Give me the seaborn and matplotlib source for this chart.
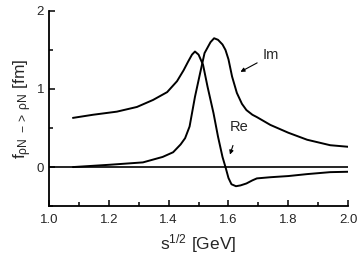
import pandas as pd
import seaborn as sns
import matplotlib.pyplot as plt
from matplotlib.ticker import MultipleLocator

# values
re_x = [1.08, 1.147, 1.227, 1.294, 1.348, 1.395, 1.428, 1.45, 1.465, 1.478, 1.488, 1.50, 1.515, 1.53, 1.55,
        1.565, 1.58, 1.59, 1.60, 1.61, 1.625, 1.64, 1.66, 1.68, 1.695, 1.74, 1.80, 1.863, 1.94, 2.0]
re_y = [0.63, 0.67, 0.71, 0.77, 0.86, 0.96, 1.10, 1.24, 1.35, 1.44, 1.48, 1.44, 1.31, 1.03, 0.69,
        0.39, 0.13, 0.0, -0.14, -0.22, -0.245, -0.235, -0.21, -0.17, -0.145, -0.13, -0.115, -0.09, -0.065, -0.06]
im_x = [1.08, 1.204, 1.314, 1.38, 1.415, 1.44, 1.455, 1.47, 1.488, 1.505, 1.52, 1.54, 1.552, 1.565, 1.58,
        1.59, 1.60, 1.612, 1.628, 1.645, 1.66, 1.68, 1.695, 1.74, 1.80, 1.863, 1.94, 2.0]
im_y = [0.0, 0.03, 0.06, 0.13, 0.19, 0.29, 0.37, 0.52, 0.90, 1.20, 1.46, 1.60, 1.65, 1.63, 1.57,
        1.50, 1.38, 1.16, 0.95, 0.81, 0.73, 0.67, 0.64, 0.54, 0.44, 0.35, 0.28, 0.26]

df = pd.concat([
    pd.DataFrame({"sqrt_s": re_x, "f": re_y, "part": "Re"}),
    pd.DataFrame({"sqrt_s": im_x, "f": im_y, "part": "Im"}),
])

sns.set_style("ticks")
plt.rcParams["font.family"] = ["Liberation Sans", "DejaVu Sans"]
plt.rcParams["mathtext.fontset"] = "custom"
plt.rcParams["mathtext.rm"] = "Liberation Sans"
plt.rcParams["mathtext.it"] = "Liberation Sans"

fig = plt.figure(figsize=(3.63, 2.73), dpi=100)
ax = fig.add_axes([0.135, 0.245, 0.824, 0.715])

sns.lineplot(data=df, x="sqrt_s", y="f", hue="part", palette=["black", "black"],
             linewidth=1.4, legend=False, ax=ax, sort=False)
ax.axhline(0, color="black", linewidth=1.2)

ax.set_xlim(1.0, 2.0)
ax.set_ylim(-0.5, 2.0)
ax.xaxis.set_major_locator(MultipleLocator(0.2))
ax.xaxis.set_minor_locator(MultipleLocator(0.1))
ax.yaxis.set_major_locator(MultipleLocator(1))
ax.yaxis.set_minor_locator(MultipleLocator(0.5))
ax.xaxis.set_major_formatter(plt.FormatStrFormatter("%.1f"))
ax.tick_params(which="both", direction="in", width=1.1, labelsize=9.5, color="black")
ax.tick_params(which="major", length=4)
ax.tick_params(which="minor", length=3)
ax.tick_params(axis="x", pad=6)
for s in ["left", "bottom"]:
    ax.spines[s].set_linewidth(1.3)
    ax.spines[s].set_color("black")
sns.despine(ax=ax)

ax.set_xlabel(r"s$^{1/2}$ [GeV]", fontsize=12.5, labelpad=4)
ax.set_ylabel(r"f$_{\rho N\ ->\ \rho N}$ [fm]", fontsize=12.5, labelpad=2)

ax.annotate("Im", xy=(1.64, 1.22), xytext=(1.715, 1.43), fontsize=10.5,
            va="center", ha="left",
            arrowprops=dict(arrowstyle="-|>", color="black", lw=0.8, mutation_scale=6,
                            shrinkA=2, shrinkB=0))
ax.annotate("Re", xy=(1.605, 0.16), xytext=(1.635, 0.51), fontsize=10.5,
            va="center", ha="center",
            arrowprops=dict(arrowstyle="-|>", color="black", lw=0.8, mutation_scale=6,
                            shrinkA=6, shrinkB=0))

fig.savefig("out.png", dpi=100)
